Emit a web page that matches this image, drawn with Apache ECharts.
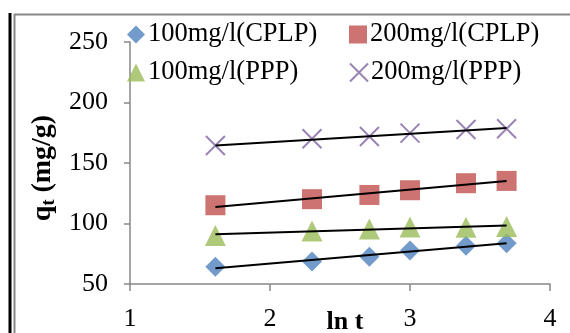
<!DOCTYPE html>
<html>
<head>
<meta charset="utf-8">
<script src="https://cdn.jsdelivr.net/npm/echarts@6/dist/echarts.min.js"></script>
<style>
html,body{margin:0;padding:0;background:#fff;}
#c{width:570px;height:333px;}
</style>
</head>
<body>
<div id="c"></div>
<script>
// ---- data ----
const lnT = [1.61, 2.30, 2.71, 3.00, 3.40, 3.69];
const seriesNames = ['100mg/l(CPLP)', '200mg/l(CPLP)', '100mg/l(PPP)', '200mg/l(PPP)'];
const cplp100 = [64.3, 68.5, 72.6, 77.6, 81.7, 83.7];
const cplp200 = [115.1, 120.1, 123.6, 127.5, 133.3, 135.2];
const ppp100  = [90.0, 93.9, 95.5, 97.2, 97.0, 97.5];
const ppp200  = [164.4, 170.0, 171.9, 174.7, 177.7, 178.3];
// trend line end values (at first and last lnT)
const trendX = [1.61, 3.69];
const trendCplp100 = [63.0, 83.7];
const trendCplp200 = [113.7, 135.2];
const trendPpp100  = [91.1, 98.3];
const trendPpp200  = [164.4, 179.0];
const yTicks = [50, 100, 150, 200, 250];
const xTicks = [1, 2, 3, 4];

const FONT = '"Liberation Serif", "Times New Roman", serif';
const colors = ['#4F81BD', '#C0504D', '#9BBB59', '#8064A2'];
const symbols = ['diamond', 'rect', 'triangle', 'path://M0,0L10,10M10,0L0,10'];
const sizes = [20, 20, 21, 19];
const values = [cplp100, cplp200, ppp100, ppp200];
const trends = [trendCplp100, trendCplp200, trendPpp100, trendPpp200];

const series = [];
values.forEach((vals, i) => {
  const isCross = i === 3;
  series.push({
    name: seriesNames[i],
    type: 'scatter',
    symbol: symbols[i],
    symbolSize: sizes[i],
    data: lnT.map((x, k) => [x, vals[k]]),
    itemStyle: isCross
      ? { color: 'rgba(0,0,0,0)', borderColor: colors[i], borderWidth: 2 }
      : { color: colors[i] },
    z: 2
  });
});
trends.forEach((t, i) => {
  series.push({
    name: 'trend' + i,
    type: 'line',
    data: trendX.map((x, k) => [x, t[k]]),
    showSymbol: false,
    symbol: 'none',
    lineStyle: { color: '#000', width: 2 },
    silent: true,
    z: 3
  });
});

const legendPos = [[127, 21], [349, 21], [127, 59], [349, 59]];
const legends = seriesNames.map((n, i) => ({
  data: [n],
  left: legendPos[i][0],
  top: legendPos[i][1],
  itemWidth: 18,
  itemHeight: 18,
  itemGap: 0,
  padding: 0,
  textStyle: { fontFamily: FONT, fontSize: 26.5, color: '#000', padding: [0, 0, 0, -2] },
  selectedMode: false
}));

const chart = echarts.init(document.getElementById('c'), null, { renderer: 'canvas' });
chart.setOption({
  animation: false,
  backgroundColor: '#fff',
  legend: legends,
  grid: { left: 130, right: 20, top: 42, bottom: 49, containLabel: false, outerBoundsMode: 'none' },
  xAxis: {
    type: 'value', min: xTicks[0], max: xTicks[xTicks.length - 1], interval: 1,
    name: 'ln t', nameLocation: 'middle', nameGap: 25, nameMoveOverlap: false,
    nameTextStyle: { fontFamily: FONT, fontSize: 26, fontWeight: 'bold', color: '#000', padding: [0, 0, 0, 10] },
    axisLine: { lineStyle: { color: '#888', width: 1.5 } },
    axisTick: { show: true, length: 7, lineStyle: { color: '#888', width: 1.5 } },
    axisLabel: { fontFamily: FONT, fontSize: 26, color: '#000', margin: 22 },
    splitLine: { show: false }
  },
  yAxis: {
    type: 'value', min: yTicks[0], max: yTicks[yTicks.length - 1], interval: 50,
    name: '{b|q}{s|t}{b| (mg/g)}', nameLocation: 'middle', nameGap: 70,
    nameTextStyle: {
      color: '#000',
      padding: [0, 0, 0, -10],
      rich: {
        b: { fontFamily: FONT, fontSize: 28, fontWeight: 'bold', color: '#000' },
        s: { fontFamily: FONT, fontSize: 18, fontWeight: 'bold', color: '#000', verticalAlign: 'bottom', padding: [12, 0, 0, 0] }
      }
    },
    axisLine: { show: true, lineStyle: { color: '#888', width: 1.5 } },
    axisTick: { show: true, length: 6, lineStyle: { color: '#888', width: 1.5 } },
    axisLabel: { fontFamily: FONT, fontSize: 26, color: '#000', margin: 22 },
    splitLine: { show: false }
  },
  graphic: [
    { type: 'line', shape: { x1: 10, y1: 13, x2: 10, y2: 333 }, style: { stroke: '#000', lineWidth: 3 } },
    { type: 'line', shape: { x1: 14.5, y1: 14, x2: 14.5, y2: 333 }, style: { stroke: '#888', lineWidth: 2 } },
    { type: 'line', shape: { x1: 14, y1: 14.5, x2: 570, y2: 14.5 }, style: { stroke: '#888', lineWidth: 2 } }
  ],
  series: series
});
</script>
</body>
</html>
